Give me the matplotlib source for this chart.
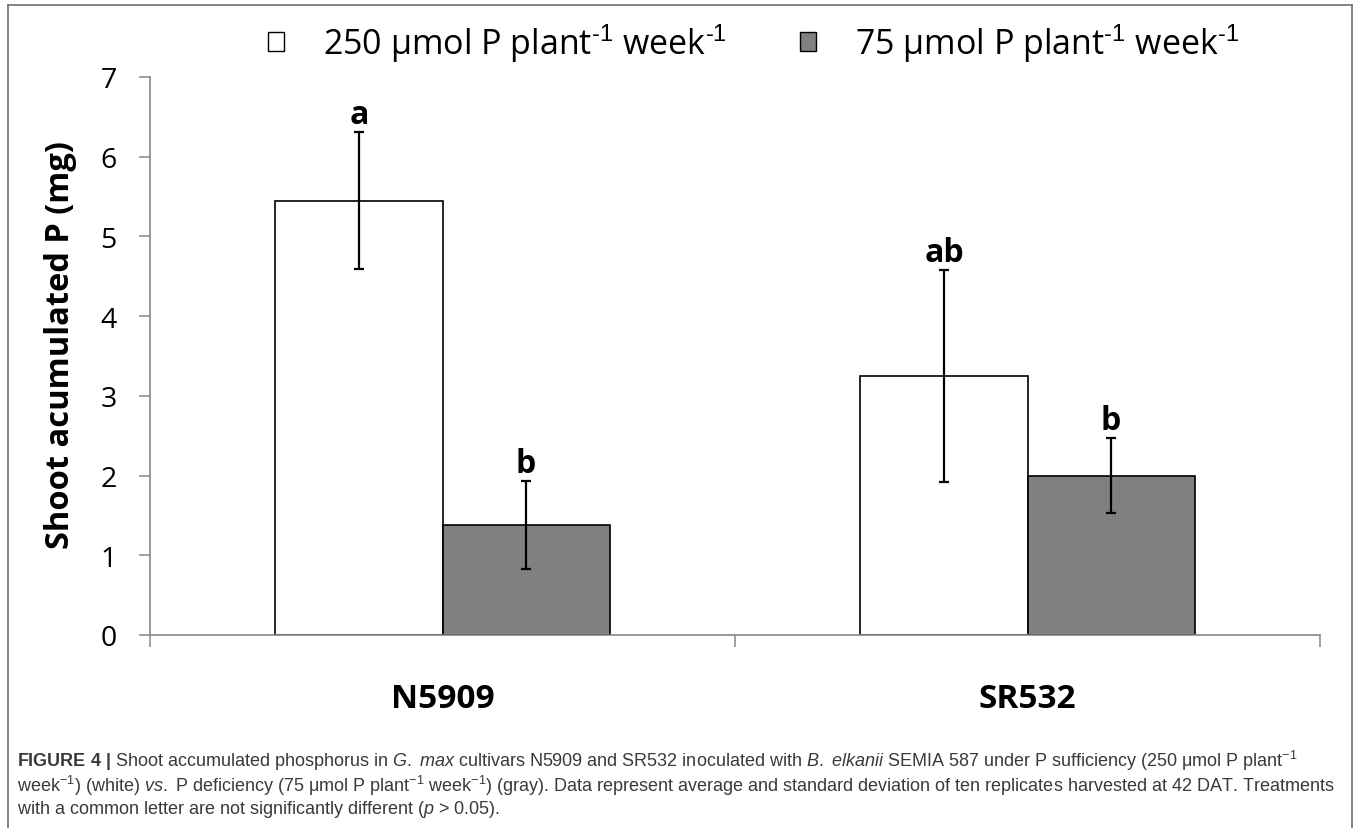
import numpy as np
import matplotlib
matplotlib.use("Agg")
import matplotlib.pyplot as plt
from matplotlib.patches import Patch
from matplotlib.lines import Line2D

plt.rcParams["mathtext.fontset"] = "custom"
plt.rcParams["mathtext.rm"] = "Liberation Sans"
plt.rcParams["mathtext.it"] = "Liberation Sans:italic"
plt.rcParams["mathtext.bf"] = "Liberation Sans:bold"
plt.rcParams["mathtext.default"] = "regular"

# data
cultivars = ["N5909", "SR532"]
treatments = [r"250 µmol P plant$^{\text{-1}}$ week$^{\text{-1}}$", r"75 µmol P plant$^{\text{-1}}$ week$^{\text{-1}}$"]
p_high = [5.45, 3.25]
p_high_sd = [0.855, 1.33]
p_low = [1.38, 2.00]
p_low_sd = [0.55, 0.47]
letters_high = ["a", "ab"]
letters_low = ["b", "b"]

caption_lines = [
    r"$\bf{FIGURE}$ $\bf{4}$ $\bf{|}$ Shoot accumulated phosphorus in $\it{G.}$ $\it{max}$ cultivars N5909 and SR532 "
    r"inoculated with $\it{B.}$ $\it{elkanii}$ SEMIA 587 under P sufficiency (250 $\mu$mol P plant$^{-1}$",
    r"week$^{-1}$) (white) $\it{vs.}$ P deficiency (75 $\mu$mol P plant$^{-1}$ week$^{-1}$) (gray). Data represent "
    r"average and standard deviation of ten replicates harvested at 42 DAT. Treatments",
    r"with a common letter are not significantly different ($\it{p}$ > 0.05).",
]

chart_font = "Open Sans"
axis_gray = "#868686"

fig = plt.figure(figsize=(13.6, 8.29), dpi=100)
ax = fig.add_axes([150 / 1360, 1 - 636 / 829, (1320 - 150) / 1360, (636 - 78) / 829])

x = np.arange(len(cultivars))
width = 0.2855
ax.bar(x - width / 2, p_high, width, color="white", edgecolor="black", linewidth=1.2, zorder=2)
ax.bar(x + width / 2, p_low, width, color="#808080", edgecolor="black", linewidth=1.2, zorder=2)
ax.errorbar(x - width / 2, p_high, yerr=p_high_sd, fmt="none", ecolor="black", elinewidth=1.6,
            capsize=3.8, capthick=1.6, zorder=3)
ax.errorbar(x + width / 2, p_low, yerr=p_low_sd, fmt="none", ecolor="black", elinewidth=1.6,
            capsize=3.8, capthick=1.6, zorder=3)

for xs, vals, sds, labs in [(x - width / 2, p_high, p_high_sd, letters_high),
                            (x + width / 2, p_low, p_low_sd, letters_low)]:
    for xi, v, sd, lab in zip(xs, vals, sds, labs):
        ax.annotate(lab, (xi, v + sd), xytext=(0, 1), textcoords="offset points", ha="center",
                    va="bottom", fontsize=23, fontweight="bold", family=chart_font)

ax.set_xlim(-0.5, 1.5)
ax.set_ylim(0, 7)
ax.set_yticks(range(8))
ax.tick_params(axis="y", direction="out", length=8, width=1.1, color=axis_gray, pad=16, labelsize=20.5)
ax.set_xticks([-0.5, 0.5, 1.5])
ax.set_xticklabels([])
ax.tick_params(axis="x", which="major", direction="out", length=8.5, width=1.1, color=axis_gray)
ax.set_xticks(x, minor=True)
ax.set_xticklabels(cultivars, minor=True)
ax.tick_params(axis="x", which="minor", length=0, pad=34, labelsize=24)
for lab in ax.get_xticklabels(minor=True):
    lab.set_fontweight("bold")
    lab.set_family(chart_font)
for lab in ax.get_yticklabels():
    lab.set_family(chart_font)

for side in ["top", "right"]:
    ax.spines[side].set_visible(False)
for side in ["left", "bottom"]:
    ax.spines[side].set_color(axis_gray)
    ax.spines[side].set_linewidth(1.2)

ax.set_ylabel("Shoot acumulated P (mg)", fontsize=23.5, fontweight="bold", family=chart_font)
ax.yaxis.label.set_verticalalignment("center")
ax.yaxis.set_label_coords((61 - 150) / 1170, (636 - 345) / 558)

handles = [Patch(facecolor="white", edgecolor="black", linewidth=1),
           Patch(facecolor="#808080", edgecolor="black", linewidth=1)]
ax.legend(handles, treatments, loc="center", bbox_to_anchor=(0.516, 1.061), ncol=2, frameon=False,
          handlelength=0.47, handleheight=0.47, handletextpad=1.15, columnspacing=2.15,
          prop={"family": chart_font, "size": 24.5})

# caption and frame
for i, line in enumerate(caption_lines):
    fig.text(17 / 1360, 1 - (761 + 24.5 * i) / 829, line, ha="left", va="center", fontsize=13,
             family="Liberation Sans", color="#3a3a3a")

frame = dict(color="#6e6e6e", linewidth=1.2, transform=fig.transFigure)
fig.add_artist(Line2D([8 / 1360, 1352 / 1360], [1 - 6 / 829, 1 - 6 / 829], **frame))
fig.add_artist(Line2D([8 / 1360, 8 / 1360], [1 - 6 / 829, 0], **frame))
fig.add_artist(Line2D([1352 / 1360, 1352 / 1360], [1 - 6 / 829, 0], **frame))

fig.savefig("out.png", dpi=100)
